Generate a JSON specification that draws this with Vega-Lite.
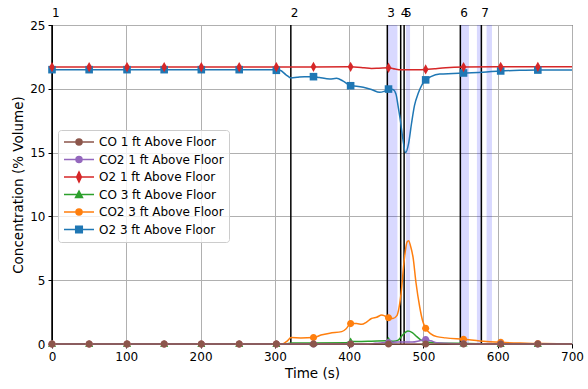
{
  "$schema": "https://vega.github.io/schema/vega-lite/v6.json",
  "width": 520,
  "height": 319,
  "autosize": "none",
  "padding": {"left": 52, "top": 25, "right": 16, "bottom": 45},
  "config": {
    "font": "DejaVu Sans",
    "view": {"stroke": "#000000", "strokeWidth": 1},
    "axis": {
      "domainColor": "#000000", "domainWidth": 1,
      "tickColor": "#000000", "tickSize": 4, "tickWidth": 1,
      "labelColor": "#000000", "labelFontSize": 12, "labelFont": "DejaVu Sans", "labelPadding": 3,
      "titleColor": "#000000", "titleFontSize": 13.5, "titleFont": "DejaVu Sans", "titleFontWeight": "normal", "titlePadding": 4,
      "gridColor": "#b0b0b0", "gridWidth": 1, "gridOpacity": 1
    }
  },
  "datasets": {
    "bands": [
      {"t": 451.4, "t2": 465},
      {"t": 476.5, "t2": 482},
      {"t": 550.5, "t2": 561.3},
      {"t": 572, "t2": 577.5},
      {"t": 585, "t2": 592.3}
    ],
    "events": [
      {"t": 0, "label": "1"},
      {"t": 321.5, "label": "2"},
      {"t": 451.4, "label": "3"},
      {"t": 469.4, "label": "4"},
      {"t": 474, "label": "5"},
      {"t": 549.7, "label": "6"},
      {"t": 578, "label": "7"}
    ],
    "lines": [
      {"s": "O2 3 ft Above Floor", "t": 0, "v": 21.5},
      {"s": "O2 3 ft Above Floor", "t": 300, "v": 21.5},
      {"s": "O2 3 ft Above Floor", "t": 307, "v": 21.45},
      {"s": "O2 3 ft Above Floor", "t": 315, "v": 21.1},
      {"s": "O2 3 ft Above Floor", "t": 322, "v": 20.85},
      {"s": "O2 3 ft Above Floor", "t": 330, "v": 20.9},
      {"s": "O2 3 ft Above Floor", "t": 340, "v": 20.95},
      {"s": "O2 3 ft Above Floor", "t": 352, "v": 20.95},
      {"s": "O2 3 ft Above Floor", "t": 360, "v": 20.88},
      {"s": "O2 3 ft Above Floor", "t": 374, "v": 20.77},
      {"s": "O2 3 ft Above Floor", "t": 383, "v": 20.82},
      {"s": "O2 3 ft Above Floor", "t": 392, "v": 20.6},
      {"s": "O2 3 ft Above Floor", "t": 402, "v": 20.24},
      {"s": "O2 3 ft Above Floor", "t": 410, "v": 20.2},
      {"s": "O2 3 ft Above Floor", "t": 419, "v": 20.12},
      {"s": "O2 3 ft Above Floor", "t": 430, "v": 19.95},
      {"s": "O2 3 ft Above Floor", "t": 441, "v": 19.72},
      {"s": "O2 3 ft Above Floor", "t": 447, "v": 19.8},
      {"s": "O2 3 ft Above Floor", "t": 453, "v": 19.98},
      {"s": "O2 3 ft Above Floor", "t": 459, "v": 19.95},
      {"s": "O2 3 ft Above Floor", "t": 463, "v": 19.6},
      {"s": "O2 3 ft Above Floor", "t": 466, "v": 18.6},
      {"s": "O2 3 ft Above Floor", "t": 469, "v": 17.5},
      {"s": "O2 3 ft Above Floor", "t": 472, "v": 16.2},
      {"s": "O2 3 ft Above Floor", "t": 476, "v": 15.0},
      {"s": "O2 3 ft Above Floor", "t": 480, "v": 15.7},
      {"s": "O2 3 ft Above Floor", "t": 484, "v": 17.3},
      {"s": "O2 3 ft Above Floor", "t": 488, "v": 18.7},
      {"s": "O2 3 ft Above Floor", "t": 493, "v": 19.65},
      {"s": "O2 3 ft Above Floor", "t": 498, "v": 20.3},
      {"s": "O2 3 ft Above Floor", "t": 503, "v": 20.7},
      {"s": "O2 3 ft Above Floor", "t": 510, "v": 20.95},
      {"s": "O2 3 ft Above Floor", "t": 522, "v": 21.16},
      {"s": "O2 3 ft Above Floor", "t": 540, "v": 21.2},
      {"s": "O2 3 ft Above Floor", "t": 554, "v": 21.24},
      {"s": "O2 3 ft Above Floor", "t": 580, "v": 21.3},
      {"s": "O2 3 ft Above Floor", "t": 604, "v": 21.4},
      {"s": "O2 3 ft Above Floor", "t": 630, "v": 21.45},
      {"s": "O2 3 ft Above Floor", "t": 654, "v": 21.47},
      {"s": "O2 3 ft Above Floor", "t": 700, "v": 21.47},

      {"s": "CO2 3 ft Above Floor", "t": 0, "v": 0},
      {"s": "CO2 3 ft Above Floor", "t": 310, "v": 0},
      {"s": "CO2 3 ft Above Floor", "t": 316, "v": 0.2},
      {"s": "CO2 3 ft Above Floor", "t": 322, "v": 0.5},
      {"s": "CO2 3 ft Above Floor", "t": 335, "v": 0.48},
      {"s": "CO2 3 ft Above Floor", "t": 352, "v": 0.5},
      {"s": "CO2 3 ft Above Floor", "t": 362, "v": 0.7},
      {"s": "CO2 3 ft Above Floor", "t": 374, "v": 0.85},
      {"s": "CO2 3 ft Above Floor", "t": 390, "v": 0.97},
      {"s": "CO2 3 ft Above Floor", "t": 396, "v": 1.2},
      {"s": "CO2 3 ft Above Floor", "t": 402, "v": 1.6},
      {"s": "CO2 3 ft Above Floor", "t": 410, "v": 1.6},
      {"s": "CO2 3 ft Above Floor", "t": 417, "v": 1.54},
      {"s": "CO2 3 ft Above Floor", "t": 423, "v": 1.7},
      {"s": "CO2 3 ft Above Floor", "t": 430, "v": 2.0},
      {"s": "CO2 3 ft Above Floor", "t": 437, "v": 2.1},
      {"s": "CO2 3 ft Above Floor", "t": 444, "v": 2.27},
      {"s": "CO2 3 ft Above Floor", "t": 448, "v": 2.2},
      {"s": "CO2 3 ft Above Floor", "t": 453, "v": 2.06},
      {"s": "CO2 3 ft Above Floor", "t": 459, "v": 2.0},
      {"s": "CO2 3 ft Above Floor", "t": 464, "v": 2.2},
      {"s": "CO2 3 ft Above Floor", "t": 467, "v": 2.8},
      {"s": "CO2 3 ft Above Floor", "t": 470, "v": 4.0},
      {"s": "CO2 3 ft Above Floor", "t": 474, "v": 6.5},
      {"s": "CO2 3 ft Above Floor", "t": 478, "v": 8.0},
      {"s": "CO2 3 ft Above Floor", "t": 480, "v": 8.1},
      {"s": "CO2 3 ft Above Floor", "t": 483, "v": 7.6},
      {"s": "CO2 3 ft Above Floor", "t": 486, "v": 6.8},
      {"s": "CO2 3 ft Above Floor", "t": 490, "v": 4.8},
      {"s": "CO2 3 ft Above Floor", "t": 495, "v": 2.9},
      {"s": "CO2 3 ft Above Floor", "t": 499, "v": 1.8},
      {"s": "CO2 3 ft Above Floor", "t": 503, "v": 1.23},
      {"s": "CO2 3 ft Above Floor", "t": 510, "v": 0.8},
      {"s": "CO2 3 ft Above Floor", "t": 518, "v": 0.58},
      {"s": "CO2 3 ft Above Floor", "t": 530, "v": 0.48},
      {"s": "CO2 3 ft Above Floor", "t": 554, "v": 0.37},
      {"s": "CO2 3 ft Above Floor", "t": 576, "v": 0.24},
      {"s": "CO2 3 ft Above Floor", "t": 604, "v": 0.13},
      {"s": "CO2 3 ft Above Floor", "t": 630, "v": 0.07},
      {"s": "CO2 3 ft Above Floor", "t": 654, "v": 0.04},
      {"s": "CO2 3 ft Above Floor", "t": 680, "v": 0.01},
      {"s": "CO2 3 ft Above Floor", "t": 700, "v": 0},

      {"s": "CO 3 ft Above Floor", "t": 0, "v": 0},
      {"s": "CO 3 ft Above Floor", "t": 315, "v": 0},
      {"s": "CO 3 ft Above Floor", "t": 322, "v": 0.08},
      {"s": "CO 3 ft Above Floor", "t": 350, "v": 0.08},
      {"s": "CO 3 ft Above Floor", "t": 395, "v": 0.1},
      {"s": "CO 3 ft Above Floor", "t": 402, "v": 0.2},
      {"s": "CO 3 ft Above Floor", "t": 410, "v": 0.2},
      {"s": "CO 3 ft Above Floor", "t": 430, "v": 0.22},
      {"s": "CO 3 ft Above Floor", "t": 450, "v": 0.25},
      {"s": "CO 3 ft Above Floor", "t": 460, "v": 0.22},
      {"s": "CO 3 ft Above Floor", "t": 466, "v": 0.3},
      {"s": "CO 3 ft Above Floor", "t": 472, "v": 0.7},
      {"s": "CO 3 ft Above Floor", "t": 479, "v": 1.02},
      {"s": "CO 3 ft Above Floor", "t": 485, "v": 0.9},
      {"s": "CO 3 ft Above Floor", "t": 491, "v": 0.58},
      {"s": "CO 3 ft Above Floor", "t": 497, "v": 0.3},
      {"s": "CO 3 ft Above Floor", "t": 505, "v": 0.15},
      {"s": "CO 3 ft Above Floor", "t": 518, "v": 0.08},
      {"s": "CO 3 ft Above Floor", "t": 560, "v": 0.04},
      {"s": "CO 3 ft Above Floor", "t": 600, "v": 0},
      {"s": "CO 3 ft Above Floor", "t": 700, "v": 0},

      {"s": "O2 1 ft Above Floor", "t": 0, "v": 21.7},
      {"s": "O2 1 ft Above Floor", "t": 300, "v": 21.7},
      {"s": "O2 1 ft Above Floor", "t": 400, "v": 21.72},
      {"s": "O2 1 ft Above Floor", "t": 420, "v": 21.65},
      {"s": "O2 1 ft Above Floor", "t": 430, "v": 21.6},
      {"s": "O2 1 ft Above Floor", "t": 440, "v": 21.62},
      {"s": "O2 1 ft Above Floor", "t": 453, "v": 21.65},
      {"s": "O2 1 ft Above Floor", "t": 462, "v": 21.55},
      {"s": "O2 1 ft Above Floor", "t": 470, "v": 21.5},
      {"s": "O2 1 ft Above Floor", "t": 490, "v": 21.5},
      {"s": "O2 1 ft Above Floor", "t": 503, "v": 21.52},
      {"s": "O2 1 ft Above Floor", "t": 515, "v": 21.58},
      {"s": "O2 1 ft Above Floor", "t": 530, "v": 21.65},
      {"s": "O2 1 ft Above Floor", "t": 554, "v": 21.7},
      {"s": "O2 1 ft Above Floor", "t": 600, "v": 21.72},
      {"s": "O2 1 ft Above Floor", "t": 700, "v": 21.72},

      {"s": "CO2 1 ft Above Floor", "t": 0, "v": 0},
      {"s": "CO2 1 ft Above Floor", "t": 425, "v": 0},
      {"s": "CO2 1 ft Above Floor", "t": 435, "v": 0.05},
      {"s": "CO2 1 ft Above Floor", "t": 445, "v": 0.1},
      {"s": "CO2 1 ft Above Floor", "t": 455, "v": 0.12},
      {"s": "CO2 1 ft Above Floor", "t": 465, "v": 0.15},
      {"s": "CO2 1 ft Above Floor", "t": 475, "v": 0.15},
      {"s": "CO2 1 ft Above Floor", "t": 485, "v": 0.15},
      {"s": "CO2 1 ft Above Floor", "t": 495, "v": 0.25},
      {"s": "CO2 1 ft Above Floor", "t": 503, "v": 0.35},
      {"s": "CO2 1 ft Above Floor", "t": 510, "v": 0.25},
      {"s": "CO2 1 ft Above Floor", "t": 518, "v": 0.1},
      {"s": "CO2 1 ft Above Floor", "t": 530, "v": 0.05},
      {"s": "CO2 1 ft Above Floor", "t": 550, "v": 0.02},
      {"s": "CO2 1 ft Above Floor", "t": 570, "v": 0},
      {"s": "CO2 1 ft Above Floor", "t": 700, "v": 0},

      {"s": "CO 1 ft Above Floor", "t": 0, "v": 0},
      {"s": "CO 1 ft Above Floor", "t": 700, "v": 0}
    ],
    "markers": [
      {"s": "O2 3 ft Above Floor", "t": 0, "v": 21.5},
      {"s": "O2 3 ft Above Floor", "t": 50, "v": 21.5},
      {"s": "O2 3 ft Above Floor", "t": 101, "v": 21.5},
      {"s": "O2 3 ft Above Floor", "t": 151, "v": 21.5},
      {"s": "O2 3 ft Above Floor", "t": 201, "v": 21.5},
      {"s": "O2 3 ft Above Floor", "t": 252, "v": 21.5},
      {"s": "O2 3 ft Above Floor", "t": 302, "v": 21.45},
      {"s": "O2 3 ft Above Floor", "t": 352, "v": 20.95},
      {"s": "O2 3 ft Above Floor", "t": 402, "v": 20.24},
      {"s": "O2 3 ft Above Floor", "t": 453, "v": 19.98},
      {"s": "O2 3 ft Above Floor", "t": 503, "v": 20.7},
      {"s": "O2 3 ft Above Floor", "t": 554, "v": 21.24},
      {"s": "O2 3 ft Above Floor", "t": 604, "v": 21.4},
      {"s": "O2 3 ft Above Floor", "t": 654, "v": 21.47},

      {"s": "CO2 3 ft Above Floor", "t": 0, "v": 0},
      {"s": "CO2 3 ft Above Floor", "t": 50, "v": 0},
      {"s": "CO2 3 ft Above Floor", "t": 101, "v": 0},
      {"s": "CO2 3 ft Above Floor", "t": 151, "v": 0},
      {"s": "CO2 3 ft Above Floor", "t": 201, "v": 0},
      {"s": "CO2 3 ft Above Floor", "t": 252, "v": 0},
      {"s": "CO2 3 ft Above Floor", "t": 302, "v": 0},
      {"s": "CO2 3 ft Above Floor", "t": 352, "v": 0.5},
      {"s": "CO2 3 ft Above Floor", "t": 402, "v": 1.6},
      {"s": "CO2 3 ft Above Floor", "t": 453, "v": 2.06},
      {"s": "CO2 3 ft Above Floor", "t": 503, "v": 1.23},
      {"s": "CO2 3 ft Above Floor", "t": 554, "v": 0.37},
      {"s": "CO2 3 ft Above Floor", "t": 604, "v": 0.13},
      {"s": "CO2 3 ft Above Floor", "t": 654, "v": 0.04},

      {"s": "CO 3 ft Above Floor", "t": 0, "v": 0},
      {"s": "CO 3 ft Above Floor", "t": 50, "v": 0},
      {"s": "CO 3 ft Above Floor", "t": 101, "v": 0},
      {"s": "CO 3 ft Above Floor", "t": 151, "v": 0},
      {"s": "CO 3 ft Above Floor", "t": 201, "v": 0},
      {"s": "CO 3 ft Above Floor", "t": 252, "v": 0},
      {"s": "CO 3 ft Above Floor", "t": 302, "v": 0},
      {"s": "CO 3 ft Above Floor", "t": 352, "v": 0.08},
      {"s": "CO 3 ft Above Floor", "t": 402, "v": 0.2},
      {"s": "CO 3 ft Above Floor", "t": 453, "v": 0.25},
      {"s": "CO 3 ft Above Floor", "t": 503, "v": 0.15},
      {"s": "CO 3 ft Above Floor", "t": 554, "v": 0.04},
      {"s": "CO 3 ft Above Floor", "t": 604, "v": 0},
      {"s": "CO 3 ft Above Floor", "t": 654, "v": 0},

      {"s": "O2 1 ft Above Floor", "t": 0, "v": 21.7},
      {"s": "O2 1 ft Above Floor", "t": 50, "v": 21.7},
      {"s": "O2 1 ft Above Floor", "t": 101, "v": 21.7},
      {"s": "O2 1 ft Above Floor", "t": 151, "v": 21.7},
      {"s": "O2 1 ft Above Floor", "t": 201, "v": 21.7},
      {"s": "O2 1 ft Above Floor", "t": 252, "v": 21.7},
      {"s": "O2 1 ft Above Floor", "t": 302, "v": 21.7},
      {"s": "O2 1 ft Above Floor", "t": 352, "v": 21.72},
      {"s": "O2 1 ft Above Floor", "t": 402, "v": 21.72},
      {"s": "O2 1 ft Above Floor", "t": 453, "v": 21.65},
      {"s": "O2 1 ft Above Floor", "t": 503, "v": 21.52},
      {"s": "O2 1 ft Above Floor", "t": 554, "v": 21.7},
      {"s": "O2 1 ft Above Floor", "t": 604, "v": 21.72},
      {"s": "O2 1 ft Above Floor", "t": 654, "v": 21.72},

      {"s": "CO2 1 ft Above Floor", "t": 0, "v": 0},
      {"s": "CO2 1 ft Above Floor", "t": 50, "v": 0},
      {"s": "CO2 1 ft Above Floor", "t": 101, "v": 0},
      {"s": "CO2 1 ft Above Floor", "t": 151, "v": 0},
      {"s": "CO2 1 ft Above Floor", "t": 201, "v": 0},
      {"s": "CO2 1 ft Above Floor", "t": 252, "v": 0},
      {"s": "CO2 1 ft Above Floor", "t": 302, "v": 0},
      {"s": "CO2 1 ft Above Floor", "t": 352, "v": 0},
      {"s": "CO2 1 ft Above Floor", "t": 402, "v": 0},
      {"s": "CO2 1 ft Above Floor", "t": 453, "v": 0.12},
      {"s": "CO2 1 ft Above Floor", "t": 503, "v": 0.35},
      {"s": "CO2 1 ft Above Floor", "t": 554, "v": 0.02},
      {"s": "CO2 1 ft Above Floor", "t": 604, "v": 0},
      {"s": "CO2 1 ft Above Floor", "t": 654, "v": 0},

      {"s": "CO 1 ft Above Floor", "t": 0, "v": 0},
      {"s": "CO 1 ft Above Floor", "t": 50, "v": 0},
      {"s": "CO 1 ft Above Floor", "t": 101, "v": 0},
      {"s": "CO 1 ft Above Floor", "t": 151, "v": 0},
      {"s": "CO 1 ft Above Floor", "t": 201, "v": 0},
      {"s": "CO 1 ft Above Floor", "t": 252, "v": 0},
      {"s": "CO 1 ft Above Floor", "t": 302, "v": 0},
      {"s": "CO 1 ft Above Floor", "t": 352, "v": 0},
      {"s": "CO 1 ft Above Floor", "t": 402, "v": 0},
      {"s": "CO 1 ft Above Floor", "t": 453, "v": 0},
      {"s": "CO 1 ft Above Floor", "t": 503, "v": 0},
      {"s": "CO 1 ft Above Floor", "t": 554, "v": 0},
      {"s": "CO 1 ft Above Floor", "t": 604, "v": 0},
      {"s": "CO 1 ft Above Floor", "t": 654, "v": 0}
    ]
  },
  "layer": [
    {
      "data": {"name": "bands"},
      "mark": {"type": "rect", "color": "#0000ff", "opacity": 0.15},
      "encoding": {
        "x": {"field": "t", "type": "quantitative", "scale": {"domain": [0, 700], "nice": false},
              "axis": {"title": "Time (s)", "values": [0, 100, 200, 300, 400, 500, 600, 700], "grid": true, "labelFlush": false}},
        "x2": {"field": "t2"}
      }
    },
    {
      "data": {"name": "events"},
      "mark": {"type": "rule", "color": "#000000", "strokeWidth": 1.5},
      "encoding": {
        "x": {"field": "t", "type": "quantitative", "scale": {"domain": [0, 700], "nice": false},
              "axis": {"title": "Time (s)", "values": [0, 100, 200, 300, 400, 500, 600, 700], "grid": true, "labelFlush": false}}
      }
    },
    {
      "data": {"name": "lines"},
      "mark": {"type": "line", "interpolate": "monotone", "strokeWidth": 1.5},
      "encoding": {
        "x": {"field": "t", "type": "quantitative", "scale": {"domain": [0, 700], "nice": false},
              "axis": {"title": "Time (s)", "values": [0, 100, 200, 300, 400, 500, 600, 700], "grid": true, "labelFlush": false}},
        "y": {"field": "v", "type": "quantitative", "scale": {"domain": [0, 25], "nice": false},
              "axis": {"title": "Concentration (% Volume)", "values": [0, 5, 10, 15, 20, 25], "grid": true, "labelFlush": false}},
        "color": {
          "field": "s", "type": "nominal",
          "scale": {
            "domain": ["CO 1 ft Above Floor", "CO2 1 ft Above Floor", "O2 1 ft Above Floor", "CO 3 ft Above Floor", "CO2 3 ft Above Floor", "O2 3 ft Above Floor"],
            "range": ["#8c564b", "#9467bd", "#d62728", "#2ca02c", "#ff7f0e", "#1f77b4"]
          },
          "legend": {
            "orient": "none", "legendX": 6, "legendY": 105, "title": null,
            "labelFontSize": 12, "labelFont": "DejaVu Sans", "labelColor": "#000000",
            "symbolSize": 900, "clipHeight": 14, "rowPadding": 3.5, "padding": 5,
            "fillColor": "rgba(255,255,255,0.8)", "strokeColor": "#cccccc", "cornerRadius": 3,
            "symbolOffset": 0, "labelOffset": 4, "symbolStrokeWidth": 1.5,
            "encode": {
              "symbols": {
                "update": {
                  "shape": {"signal": "datum.value === 'O2 1 ft Above Floor' ? 'M-0.16,0L0,-0.33L0.16,0L0,0.33ZL-1,0L1,0' : datum.value === 'CO 3 ft Above Floor' ? 'M-0.125,0L0,-0.23L0.23,0.2L-0.23,0.2ZL-1,0L1,0' : datum.value === 'O2 3 ft Above Floor' ? 'M-0.22,0L-0.22,-0.22L0.22,-0.22L0.22,0.22L-0.22,0.22ZL-1,0L1,0' : 'M-0.2,0A0.2,0.2,0,1,1,0.2,0A0.2,0.2,0,1,1,-0.2,0ZL-1,0L1,0'"},
                  "fill": {"scale": "color", "field": "value"},
                  "stroke": {"scale": "color", "field": "value"},
                  "strokeWidth": {"value": 1.5},
                  "size": {"value": 900},
                  "opacity": {"value": 1}
                }
              }
            }
          }
        }
      }
    },
    {
      "data": {"name": "markers"},
      "transform": [{"filter": {"field": "s", "oneOf": ["O2 3 ft Above Floor"]}}],
      "mark": {"type": "point", "filled": true, "opacity": 1, "size": 90, "shape": "M-0.8,-0.8L0.8,-0.8L0.8,0.8L-0.8,0.8Z"},
      "encoding": {
        "x": {"field": "t", "type": "quantitative", "scale": {"domain": [0, 700], "nice": false},
              "axis": {"title": "Time (s)", "values": [0, 100, 200, 300, 400, 500, 600, 700], "grid": true, "labelFlush": false}},
        "y": {"field": "v", "type": "quantitative", "scale": {"domain": [0, 25], "nice": false},
              "axis": {"title": "Concentration (% Volume)", "values": [0, 5, 10, 15, 20, 25], "grid": true, "labelFlush": false}},
        "color": {"field": "s", "type": "nominal", "legend": null}
      }
    },
    {
      "data": {"name": "markers"},
      "transform": [{"filter": {"field": "s", "oneOf": ["CO 3 ft Above Floor"]}}],
      "mark": {"type": "point", "filled": true, "opacity": 1, "size": 90, "shape": "M0,-0.85L0.85,0.65L-0.85,0.65Z"},
      "encoding": {
        "x": {"field": "t", "type": "quantitative", "scale": {"domain": [0, 700], "nice": false},
              "axis": {"title": "Time (s)", "values": [0, 100, 200, 300, 400, 500, 600, 700], "grid": true, "labelFlush": false}},
        "y": {"field": "v", "type": "quantitative", "scale": {"domain": [0, 25], "nice": false},
              "axis": {"title": "Concentration (% Volume)", "values": [0, 5, 10, 15, 20, 25], "grid": true, "labelFlush": false}},
        "color": {"field": "s", "type": "nominal", "legend": null}
      }
    },
    {
      "data": {"name": "markers"},
      "transform": [{"filter": {"field": "s", "oneOf": ["CO2 3 ft Above Floor", "CO2 1 ft Above Floor", "CO 1 ft Above Floor"]}}],
      "mark": {"type": "point", "filled": true, "opacity": 1, "size": 90, "shape": "M-0.75,0A0.75,0.75,0,1,1,0.75,0A0.75,0.75,0,1,1,-0.75,0Z"},
      "encoding": {
        "x": {"field": "t", "type": "quantitative", "scale": {"domain": [0, 700], "nice": false},
              "axis": {"title": "Time (s)", "values": [0, 100, 200, 300, 400, 500, 600, 700], "grid": true, "labelFlush": false}},
        "y": {"field": "v", "type": "quantitative", "scale": {"domain": [0, 25], "nice": false},
              "axis": {"title": "Concentration (% Volume)", "values": [0, 5, 10, 15, 20, 25], "grid": true, "labelFlush": false}},
        "color": {"field": "s", "type": "nominal", "legend": null}
      }
    },
    {
      "data": {"name": "markers"},
      "transform": [{"filter": {"field": "s", "oneOf": ["O2 1 ft Above Floor"]}}],
      "mark": {"type": "point", "filled": true, "opacity": 1, "size": 90, "shape": "M0,-1.1L0.6,0L0,1.1L-0.6,0Z"},
      "encoding": {
        "x": {"field": "t", "type": "quantitative", "scale": {"domain": [0, 700], "nice": false},
              "axis": {"title": "Time (s)", "values": [0, 100, 200, 300, 400, 500, 600, 700], "grid": true, "labelFlush": false}},
        "y": {"field": "v", "type": "quantitative", "scale": {"domain": [0, 25], "nice": false},
              "axis": {"title": "Concentration (% Volume)", "values": [0, 5, 10, 15, 20, 25], "grid": true, "labelFlush": false}},
        "color": {"field": "s", "type": "nominal", "legend": null}
      }
    },
    {
      "data": {"name": "events"},
      "mark": {"type": "text", "align": "left", "baseline": "alphabetic", "dy": -8, "fontSize": 12, "font": "DejaVu Sans", "color": "#000000"},
      "encoding": {
        "x": {"field": "t", "type": "quantitative", "scale": {"domain": [0, 700], "nice": false},
              "axis": {"title": "Time (s)", "values": [0, 100, 200, 300, 400, 500, 600, 700], "grid": true, "labelFlush": false}},
        "y": {"datum": 25, "type": "quantitative", "scale": {"domain": [0, 25], "nice": false},
              "axis": {"title": "Concentration (% Volume)", "values": [0, 5, 10, 15, 20, 25], "grid": true, "labelFlush": false}},
        "text": {"field": "label"}
      }
    }
  ]
}
